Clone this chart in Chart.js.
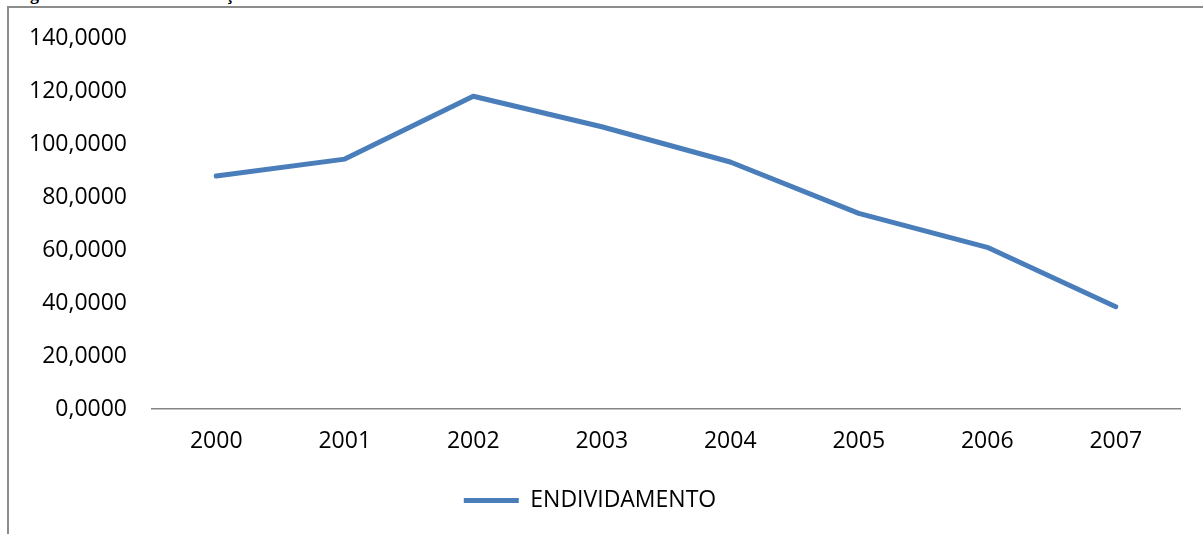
<!DOCTYPE html>
<html>
<head>
<meta charset="utf-8">
<script src="https://cdn.jsdelivr.net/npm/chart.js@4/dist/chart.umd.min.js"></script>
<style>
  html, body { margin: 0; padding: 0; background: #fff; }
  #wrap { position: relative; width: 1203px; height: 534px; overflow: hidden; }
  #caption { position: absolute; left: 14px; top: -15px; font: bold 18px "Liberation Serif", serif; line-height: 18px; white-space: nowrap; color: #000; }
  #frame { position: absolute; left: 7px; top: 6px; right: -5px; bottom: -5px; border-left: 2px solid #8c8c8c; border-top: 2px solid #8c8c8c; }
  canvas { position: absolute; left: 0; top: 0; }
</style>
</head>
<body>
<div id="wrap">
  <div id="caption">Figura 5 – Gráfico da evolução do endividamento</div>
  <div id="frame"></div>
  <canvas id="debtChart" width="1203" height="534"></canvas>
</div>
<script>
// data
var years = ['2000', '2001', '2002', '2003', '2004', '2005', '2006', '2007'];
var endividamento = [87.9, 94.3, 118.0, 106.5, 93.2, 73.8, 61.0, 38.6];
var yTicks = [0, 20, 40, 60, 80, 100, 120, 140];

var font = { family: '"Open Sans", sans-serif', size: 23 };

var ctx = document.getElementById('debtChart').getContext('2d');
var debtChart = new Chart(ctx, {
    type: 'line',
    data: {
        labels: years,
        datasets: [{
            label: 'ENDIVIDAMENTO',
            data: endividamento,
            borderColor: '#4a7ebb',
            backgroundColor: '#4a7ebb',
            borderWidth: 5,
            borderCapStyle: 'round',
            borderJoinStyle: 'round',
            pointRadius: 0,
            tension: 0
        }]
    },
    options: {
        responsive: false,
        animation: false,
        layout: {
            padding: { left: 0, right: 23, top: 38, bottom: 12 }
        },
        plugins: {
            tooltip: { enabled: false },
            legend: {
                position: 'bottom',
                labels: {
                    usePointStyle: true,
                    pointStyle: 'line',
                    pointStyleWidth: 55,
                    color: '#000',
                    font: font
                }
            }
        },
        scales: {
            x: {
                offset: true,
                grid: { display: false },
                border: { display: true, color: '#868686', width: 1.5 },
                ticks: { color: '#000', font: font, padding: 11, maxRotation: 0 },
                afterFit: function (scale) { scale.height = 70; }
            },
            y: {
                min: yTicks[0],
                max: yTicks[yTicks.length - 1],
                grid: { display: false },
                border: { display: false },
                ticks: {
                    stepSize: 20,
                    color: '#000',
                    font: font,
                    padding: 17,
                    callback: function (v) { return v.toFixed(4).replace('.', ','); }
                },
                afterFit: function (scale) { scale.width = 152; }
            }
        }
    }
});
</script>
</body>
</html>
